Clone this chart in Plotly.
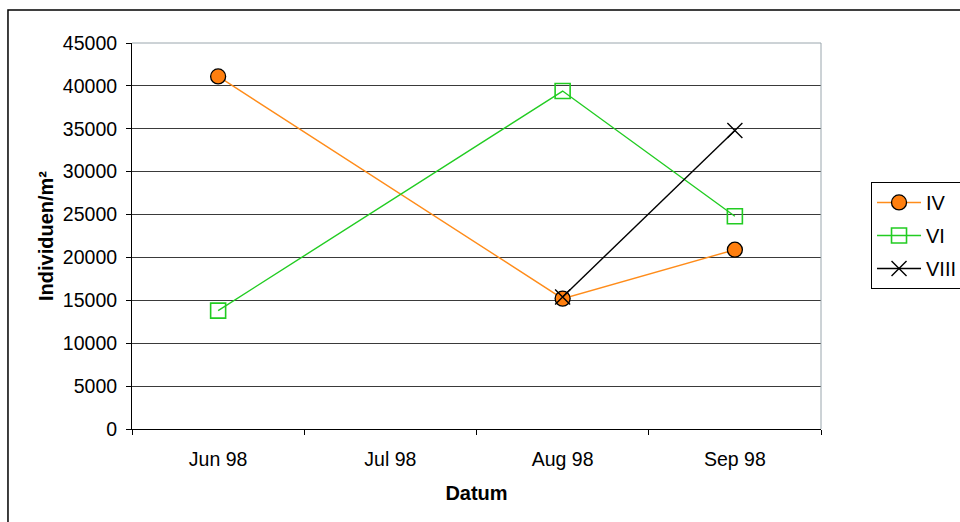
import plotly.graph_objects as go

# Sampling dates (category axis) and counts per site
months = ["Jun 98", "Jul 98", "Aug 98", "Sep 98"]

iv_months = ["Jun 98", "Aug 98", "Sep 98"]
iv_values = [41100, 15200, 20900]

vi_months = ["Jun 98", "Aug 98", "Sep 98"]
vi_values = [13800, 39400, 24800]

viii_months = ["Aug 98", "Sep 98"]
viii_values = [15400, 34800]

y_ticks = list(range(0, 45001, 5000))

FONT = "Liberation Sans, Arial, sans-serif"
ORANGE = "#FF8C1A"
GREEN = "#22CC22"
TICK_SIZE = 19.5
TITLE_SIZE = 20

fig = go.Figure()

fig.add_trace(go.Scatter(
    x=iv_months, y=iv_values, name="IV", mode="lines+markers",
    legendgroup="iv",
    line=dict(color=ORANGE, width=1.4),
    marker=dict(symbol="circle", size=15, color="#FF7F0F",
                line=dict(color="black", width=1.3)),
))
fig.add_trace(go.Scatter(
    x=vi_months, y=vi_values, name="VI", mode="lines+markers",
    legendgroup="vi",
    line=dict(color=GREEN, width=1.4),
    marker=dict(symbol="square-open", size=15, color=GREEN,
                line=dict(color=GREEN, width=1.6)),
))
fig.add_trace(go.Scatter(
    x=viii_months, y=viii_values, name="VIII", mode="lines+markers",
    legendgroup="viii",
    line=dict(color="black", width=1.4),
    marker=dict(symbol="x-thin-open", size=15, color="black",
                line=dict(color="black", width=1.4)),
))

fig.update_layout(
    width=960, height=522,
    margin=dict(l=132, r=139, t=43, b=93, autoexpand=False),
    paper_bgcolor="white", plot_bgcolor="white",
    font=dict(family=FONT, size=TICK_SIZE, color="black"),
    showlegend=True,
    legend=dict(
        x=1.0726, y=0.64, xanchor="left", yanchor="top",
        bordercolor="black", borderwidth=1, bgcolor="white",
        font=dict(family=FONT, size=20, color="black"),
        traceorder="grouped", tracegroupgap=4, itemwidth=44,
    ),
    xaxis=dict(
        type="category", categoryorder="array", categoryarray=months,
        range=[-0.5, 3.5], tickson="boundaries",
        ticks="outside", ticklen=5, tickcolor="black", tickwidth=1,
        ticklabelstandoff=13,
        showline=True, linecolor="black", linewidth=1,
        showgrid=False, zeroline=False,
        tickfont=dict(family=FONT, size=TICK_SIZE, color="black"),
        title=dict(text="<b>Datum</b>", standoff=16,
                   font=dict(family=FONT, size=TITLE_SIZE, color="black")),
    ),
    yaxis=dict(
        range=[0, 45000], tickvals=y_ticks,
        ticktext=[str(v) for v in y_ticks],
        ticks="outside", ticklen=5, tickcolor="black", tickwidth=1,
        ticklabelstandoff=5,
        showline=True, linecolor="black", linewidth=1,
        showgrid=True, gridcolor="#3a3a3a", gridwidth=1, zeroline=False,
        tickfont=dict(family=FONT, size=TICK_SIZE, color="black"),
        title=dict(text="<b>Individuen/m²</b>", standoff=3,
                   font=dict(family=FONT, size=TITLE_SIZE, color="black")),
    ),
    shapes=[
        # outer chart frame
        dict(type="rect", xref="paper", yref="paper",
             x0=-0.18, x1=1.3, y0=-0.3, y1=1.0855,
             line=dict(color="black", width=1.5), layer="below"),
        # plot area border (top and right)
        dict(type="line", xref="paper", yref="paper",
             x0=0, x1=1, y0=1, y1=1,
             line=dict(color="#9aa6ad", width=1), layer="above"),
        dict(type="line", xref="paper", yref="paper",
             x0=1, x1=1, y0=0, y1=1,
             line=dict(color="#9aa6ad", width=1), layer="above"),
    ],
)

fig.write_html("out.html")
